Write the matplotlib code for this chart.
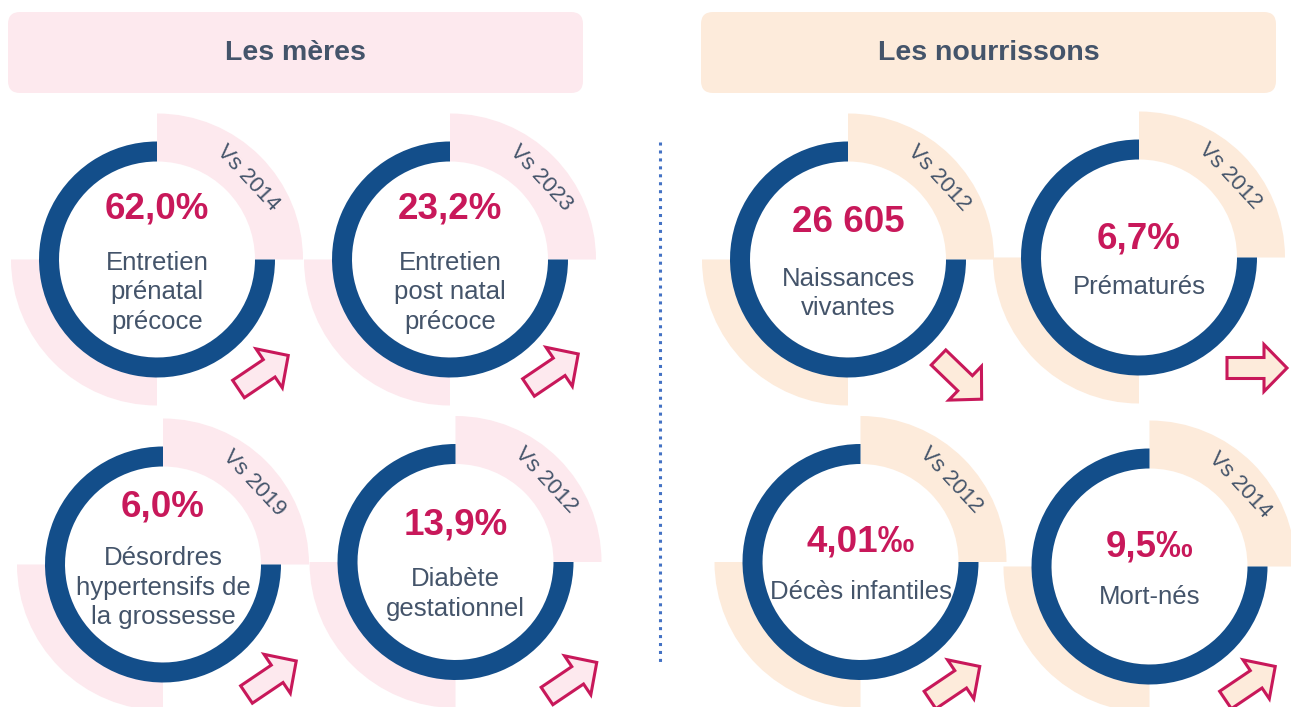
import numpy as np
import matplotlib
matplotlib.use("Agg")
import matplotlib.pyplot as plt
from matplotlib.patches import Wedge, FancyBboxPatch, Polygon

plt.rcParams["font.family"] = ["Liberation Sans", "DejaVu Sans"]

# data
sections = ["Les mères", "Les nourrissons"]
values = ["62,0%", "23,2%", "6,0%", "13,9%", "26 605", "6,7%", "4,01‰", "9,5‰"]
labels = ["Entretien\nprénatal\nprécoce", "Entretien\npost natal\nprécoce",
          "Désordres\nhypertensifs de\nla grossesse", "Diabète\ngestationnel",
          "Naissances\nvivantes", "Prématurés", "Décès infantiles", "Mort-nés"]
ref_years = ["Vs 2014", "Vs 2023", "Vs 2019", "Vs 2012",
             "Vs 2012", "Vs 2012", "Vs 2012", "Vs 2014"]
trends = ["up", "up", "up", "up", "down", "flat", "up", "up"]
groups = [0, 0, 0, 0, 1, 1, 1, 1]

# layout (pixels): ring centre, number offset, label offset, arrow tail offset
centers = [(157, 259.5), (450, 259.5), (163, 564.5), (455.5, 562),
           (848, 259.5), (1139, 257.5), (860.5, 562), (1149.5, 566.5)]
num_dy = [-51, -51, -58, -37, -37, -19, -20, -19]
lab_dy = [33, 33, 23, 32, 34, 30, 30, 30]
arrow_tail = [(81.5, 129.5), (78.5, 128), (83.5, 130), (91.5, 134),
              (90.5, 98), (88, 110.5), (69.5, 138), (76, 133.5)]
trend_angle = {"up": 34, "flat": 0, "down": -44}

BLUE = "#134E8A"
CRIMSON = "#C8185A"
TEXT = "#44546A"
LIGHT = ["#FDE9EE", "#FDEBDB"]

W, H = 1291, 707
fig = plt.figure(figsize=(W / 100, H / 100), dpi=100)
ax = fig.add_axes([0, 0, 1, 1])
ax.set_xlim(0, W)
ax.set_ylim(H, 0)
ax.axis("off")

# section headers
header_x = [8, 701]
for i, name in enumerate(sections):
    box = FancyBboxPatch((header_x[i], 12), 575, 81,
                         boxstyle="round,pad=0,rounding_size=12",
                         facecolor=LIGHT[i], edgecolor="none")
    ax.add_patch(box)
    ax.text(header_x[i] + 287.5, 53, name, ha="center", va="center",
            fontsize=20.5, fontweight="bold", color=TEXT)

# dotted divider
ax.plot([660, 660], [142, 662], color="#4472C4", lw=2.2,
        linestyle=(0, (1, 1.6)))

r_out, ring_w = 118, 20
p_out, p_in = 146, 98

for i in range(len(values)):
    cx, cy = centers[i]
    light = LIGHT[groups[i]]
    # light quarter wedges (y axis is inverted: 270-360 is top-right on screen)
    ax.add_patch(Wedge((cx, cy), p_out, 270, 360, width=p_out - p_in,
                       facecolor=light, edgecolor="none", zorder=1))
    ax.add_patch(Wedge((cx, cy), p_out, 90, 180, width=p_out - p_in,
                       facecolor=light, edgecolor="none", zorder=1))
    # blue three-quarter ring
    ax.add_patch(Wedge((cx, cy), r_out, 0, 270, width=ring_w,
                       facecolor=BLUE, edgecolor="none", zorder=2))

    # reference year along the wedge
    a = np.deg2rad(42)
    ax.text(cx + 122 * np.cos(a), cy - 122 * np.sin(a), ref_years[i],
            rotation=-47, ha="center", va="center", fontsize=16,
            color=TEXT, zorder=3, rotation_mode="anchor")

    ax.text(cx, cy + num_dy[i], values[i], ha="center", va="center",
            fontsize=26.5, fontweight="bold", color=CRIMSON, zorder=4)
    ax.text(cx, cy + lab_dy[i], labels[i], ha="center", va="center",
            fontsize=18.5, color=TEXT, linespacing=1.27, zorder=4)

    # trend arrow
    ang = np.deg2rad(trend_angle[trends[i]])
    u = np.array([np.cos(ang), -np.sin(ang)])
    n = np.array([np.sin(ang), np.cos(ang)])
    t = np.array([cx + arrow_tail[i][0], cy + arrow_tail[i][1]])
    L, Hh, s, h = 60, 23, 10.5, 23.5
    pts = [t + n * s, t + u * (L - Hh) + n * s, t + u * (L - Hh) + n * h,
           t + u * L, t + u * (L - Hh) - n * h, t + u * (L - Hh) - n * s,
           t - n * s]
    ax.add_patch(Polygon(pts, closed=True, facecolor=light,
                         edgecolor=CRIMSON, lw=2.2, joinstyle="miter",
                         zorder=5))

fig.savefig("out.png", dpi=100)
